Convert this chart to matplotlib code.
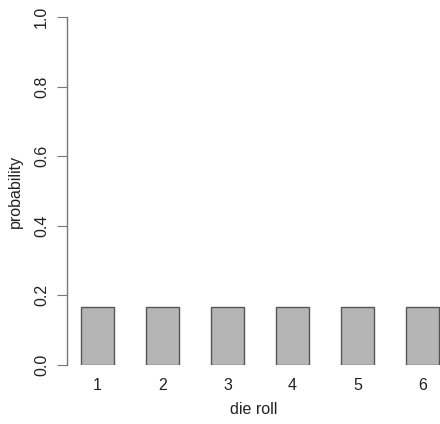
import matplotlib.pyplot as plt

plt.rcParams["font.family"] = ["Liberation Sans", "DejaVu Sans"]

rolls = [1, 2, 3, 4, 5, 6]
probs = [1 / 6] * 6
yticks = [0.0, 0.2, 0.4, 0.6, 0.8, 1.0]

W, H = 440, 424
fig = plt.figure(figsize=(W / 100, H / 100), dpi=100)
# axes box in pixel coords: left spine at x=67, y=0 at 365, y=1 at 17
left, right, bottom, top = 67, 440, 365, 17
ax = fig.add_axes([left / W, (H - bottom) / H, (right - left) / W, (bottom - top) / H])

ax.bar(rolls, probs, width=0.508, color="#B5B5B5", edgecolor="#555555", linewidth=1.0)
ax.set_xlim(0.531, 6.269)
ax.set_ylim(0, 1)

for s in ["top", "right", "bottom"]:
    ax.spines[s].set_visible(False)
ax.spines["left"].set_color("#777777")
ax.spines["left"].set_linewidth(1.0)

ax.set_yticks(yticks)
ax.set_yticklabels([f"{v:.1f}" for v in yticks], rotation=90, va="center", fontsize=11.5, color="#222222")
ax.tick_params(axis="y", length=7, color="#777777", pad=6)
ax.set_xticks(rolls)
ax.set_xticklabels([str(r) for r in rolls], fontsize=11.5, color="#222222")
ax.tick_params(axis="x", length=0, pad=9)

ax.set_ylabel("probability", fontsize=11.5, color="#222222", labelpad=8)
ax.set_xlabel("die roll", fontsize=11.5, color="#222222", labelpad=7)

fig.savefig("out.png", dpi=100)
